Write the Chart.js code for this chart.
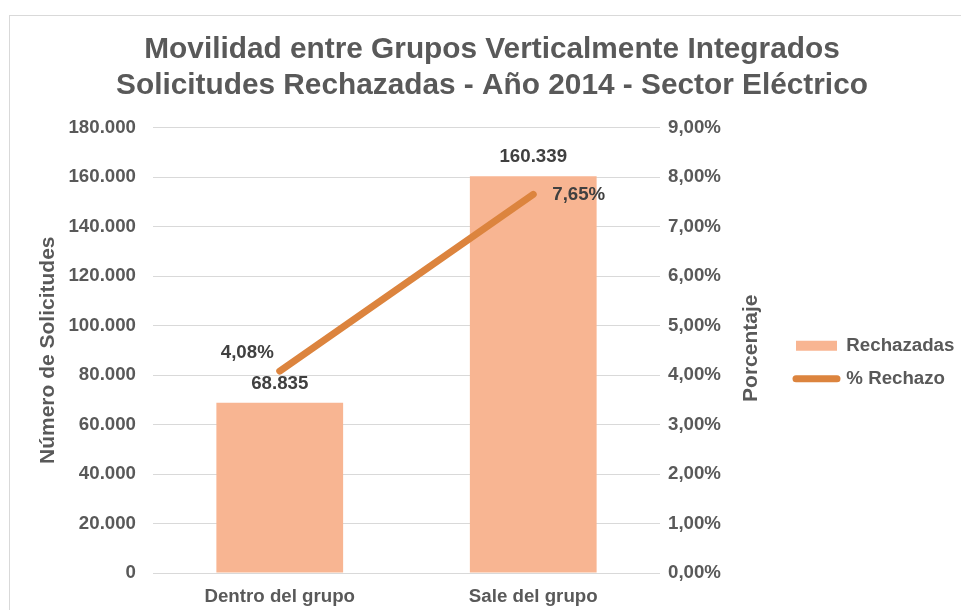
<!DOCTYPE html>
<html><head><meta charset="utf-8">
<script src="https://cdn.jsdelivr.net/npm/chart.js@4"></script>
<style>
html,body{margin:0;padding:0;background:#fff;overflow:hidden;width:961px;height:610px;}
#frame{position:absolute;left:9px;top:15px;width:1100px;height:800px;border:1px solid #d9d9d9;box-sizing:border-box;pointer-events:none;}
#wrap{position:absolute;left:0;top:0;width:984px;height:610px;}
</style></head><body>
<div id="frame"></div>
<div id="wrap"><canvas id="c" width="984" height="610"></canvas></div>
<script>
const titleLines = ['Movilidad entre Grupos Verticalmente Integrados', 'Solicitudes Rechazadas - Año 2014 - Sector Eléctrico'];
const categories = ['Dentro del grupo', 'Sale del grupo'];
const rechazadas = [68835, 160339];
const rechazo = [4.08, 7.65];
const rechazadasLabels = ['68.835', '160.339'];
const rechazoLabels = ['4,08%', '7,65%'];
const leftTicks = ['0', '20.000', '40.000', '60.000', '80.000', '100.000', '120.000', '140.000', '160.000', '180.000'];
const rightTicks = ['0,00%', '1,00%', '2,00%', '3,00%', '4,00%', '5,00%', '6,00%', '7,00%', '8,00%', '9,00%'];
const seriesNames = ['Rechazadas', '% Rechazo'];
const axisTitles = ['Número de Solicitudes', 'Porcentaje'];

const FAM = "'Liberation Sans', Arial, sans-serif";
const TXT = '#595959';
const LBL = '#404040';
const BAR = '#F8B592';
const LINE = '#DC843E';
const GRID = '#d9d9d9';
const LEG_PAD = 14.5;

const labelsPlugin = {
  id: 'dataLabels',
  afterLayout(chart) {
    const lg = chart.legend;
    if (lg) {
      lg.top += 12; lg.bottom += 12;
      lg.left = chart.chartArea.right + 136 - LEG_PAD;
      lg.right = chart.width;
      lg.width = lg.right - lg.left;
    }
    const tb = chart.titleBlock;
    if (tb) { tb.left = 0; tb.right = chart.width; }
  },
  afterDatasetsDraw(chart) {
    const ctx = chart.ctx;
    ctx.save();
    ctx.font = 'bold 18.7px ' + FAM;
    ctx.fillStyle = LBL;
    ctx.textBaseline = 'middle';
    const bm = chart.getDatasetMeta(0);
    bm.data.forEach((el, i) => {
      ctx.textAlign = 'center';
      ctx.fillText(rechazadasLabels[i], el.x, el.y - 19);
    });
    const lm = chart.getDatasetMeta(1);
    lm.data.forEach((el, i) => {
      if (i === 0) {
        ctx.textAlign = 'right';
        ctx.fillText(rechazoLabels[i], el.x - 6, el.y - 18);
      } else {
        ctx.textAlign = 'left';
        ctx.fillText(rechazoLabels[i], el.x + 19, el.y + 1);
      }
    });
    // right axis title, rotated bottom-to-top
    const y1 = chart.scales.y1;
    const ca = chart.chartArea;
    ctx.save();
    ctx.translate(y1.left + 91, (ca.top + ca.bottom) / 2 - 2);
    ctx.rotate(-Math.PI / 2);
    ctx.font = 'bold 21px ' + FAM;
    ctx.fillStyle = TXT;
    ctx.textAlign = 'center';
    ctx.textBaseline = 'middle';
    ctx.fillText(axisTitles[1], 0, 0);
    ctx.restore();
    ctx.restore();
  }
};

new Chart(document.getElementById('c'), {
  type: 'bar',
  data: {
    labels: categories,
    datasets: [
      { type: 'bar', label: seriesNames[0], data: rechazadas, backgroundColor: BAR, borderWidth: 0,
        categoryPercentage: 1, barPercentage: 0.5, yAxisID: 'y', order: 1 },
      { type: 'line', label: seriesNames[1], data: rechazo, borderColor: LINE, backgroundColor: LINE,
        borderWidth: 7, borderCapStyle: 'round', pointRadius: 0, tension: 0, yAxisID: 'y1', order: 0 }
    ]
  },
  options: {
    responsive: false,
    animation: false,
    devicePixelRatio: 1,
    layout: { padding: { left: 0, right: 36, top: 0, bottom: 0 } },
    plugins: {
      title: {
        display: true, text: titleLines, color: TXT,
        font: { family: FAM, size: 29.8, weight: 'bold', lineHeight: 1.2 },
        padding: { top: 32, bottom: 24 }
      },
      legend: {
        position: 'right', fullSize: false, align: 'center',
        labels: {
          usePointStyle: true, pointStyleWidth: 41, boxWidth: 41, boxHeight: 10, padding: LEG_PAD,
          color: TXT, font: { family: FAM, size: 18.7, weight: 'bold' },
          sort: (a, b) => a.datasetIndex - b.datasetIndex,
          generateLabels: (chart) => {
            const items = Chart.defaults.plugins.legend.labels.generateLabels(chart);
            items.forEach(it => {
              if (it.datasetIndex === 0) { it.pointStyle = 'rect'; it.lineWidth = 0; it.fillStyle = BAR; }
              else { it.pointStyle = 'line'; it.lineWidth = 7; it.strokeStyle = LINE; it.lineCap = 'round'; }
            });
            return items;
          }
        }
      },
      tooltip: { enabled: false }
    },
    scales: {
      x: {
        grid: { display: false, drawTicks: false }, border: { display: false },
        ticks: { color: TXT, font: { family: FAM, size: 18.7, weight: 'bold' }, padding: 13, maxRotation: 0 },
        afterFit: s => { s.height = 37; }
      },
      y: {
        position: 'left', min: 0, max: 180000,
        ticks: { stepSize: 20000, callback: (v, i) => leftTicks[i], color: TXT,
          font: { family: FAM, size: 18.7, weight: 'bold' }, padding: 17 },
        grid: { color: GRID, lineWidth: 1, drawTicks: false }, border: { display: false },
        title: { display: true, text: axisTitles[0], color: TXT,
          font: { family: FAM, size: 21, weight: 'bold', lineHeight: 1.2 }, padding: { top: 36, bottom: 0 } },
        afterFit: s => { s.width = 153; }
      },
      y1: {
        position: 'right', min: 0, max: 9,
        ticks: { stepSize: 1, callback: (v, i) => rightTicks[i], color: TXT,
          font: { family: FAM, size: 18.7, weight: 'bold' }, padding: 8 },
        grid: { display: false, drawTicks: false }, border: { display: false },
        afterFit: s => { s.width = 130; }
      }
    }
  },
  plugins: [labelsPlugin]
});
</script>
</body></html>
